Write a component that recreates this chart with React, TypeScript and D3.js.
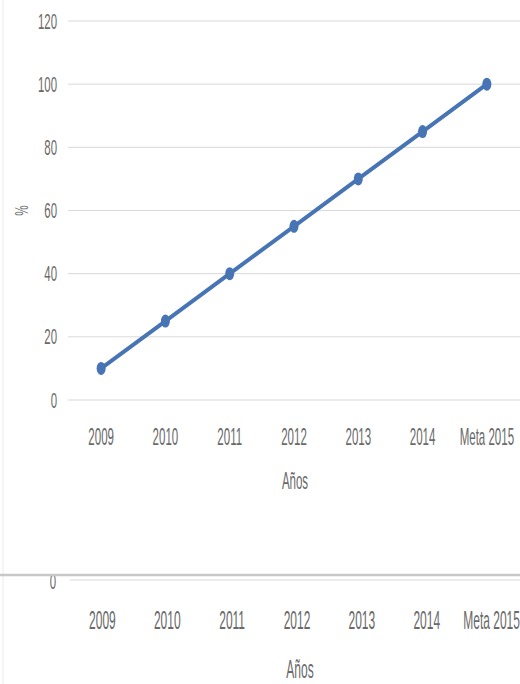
import React from 'react';
import * as d3 from 'd3';

const categories = ['2009', '2010', '2011', '2012', '2013', '2014', 'Meta 2015'];
const values = [10, 25, 40, 55, 70, 85, 100];
const yTicks = [0, 20, 40, 60, 80, 100, 120];
const xTitle = 'Años';
const yTitle = '%';

const FONT = '"Liberation Sans", Arial, sans-serif';
const TEXT_COLOR = '#6a6a6a';
const GRID = '#d9d9d9';
const LINE = '#4674b4';

function CText({ x, y, children, anchor = 'middle', size = 21, rotate = 0, sx = 0.5 }: any) {
  return (
    <text
      transform={`translate(${x},${y}) rotate(${rotate}) scale(${sx},1)`}
      textAnchor={anchor}
      dominantBaseline="central"
      fontFamily={FONT}
      fontSize={size}
      fill={TEXT_COLOR}
    >
      {children}
    </text>
  );
}

export default function App() {
  const W = 520;
  const H = 684;

  const x = d3.scaleBand<string>().domain(categories).range([69, 519]);
  const y = d3.scaleLinear().domain([0, 120]).range([400, 21]);
  const cx = (c: string) => (x(c) as number) + x.bandwidth() / 2;

  const line = d3
    .line<number>()
    .x((_, i) => cx(categories[i]))
    .y((d) => y(d));

  // Bottom (duplicated) axis strip
  const xb = d3.scaleBand<string>().domain(categories).range([70, 524]);
  const yb = d3.scaleLinear().domain([0, 120]).range([580, 201]);
  const cxb = (c: string) => (xb(c) as number) + xb.bandwidth() / 2;

  return (
    <svg width={W} height={H} style={{ position: 'absolute', left: 0, top: 0, background: '#fff' }}>
      <defs>
        <clipPath id="topClip">
          <rect x={0} y={0} width={W} height={505} />
        </clipPath>
        <clipPath id="bottomClip">
          <rect x={0} y={576} width={W} height={H - 576} />
        </clipPath>
      </defs>
      <rect x={0} y={0} width={W} height={H} fill="#fff" />
      <line x1={3} x2={3} y1={0} y2={H} stroke="#ececec" strokeWidth={1} />

      <g clipPath="url(#topClip)">
        {yTicks.map((t) => (
          <line key={'g' + t} x1={68} x2={W} y1={y(t)} y2={y(t)} stroke={GRID} strokeWidth={1} />
        ))}
        {yTicks.map((t) => (
          <CText key={'yl' + t} x={57} y={y(t)} anchor="end" size={22} sx={0.52}>
            {t}
          </CText>
        ))}
        <CText x={21} y={y(60)} rotate={-90} size={19} sx={0.62}>
          {yTitle}
        </CText>
        {categories.map((c) => (
          <CText key={'xl' + c} x={cx(c)} y={437} size={24} sx={0.48}>
            {c}
          </CText>
        ))}
        <CText x={295} y={481} size={24} sx={0.48}>
          {xTitle}
        </CText>
        <path d={line(values) as string} fill="none" stroke={LINE} strokeWidth={4} strokeLinecap="round" strokeLinejoin="round" />
        {values.map((v, i) => (
          <ellipse key={'m' + i} cx={cx(categories[i])} cy={y(v)} rx={4.5} ry={6.5} fill={LINE} />
        ))}
      </g>

      <g clipPath="url(#bottomClip)">
        <line x1={70} x2={W} y1={yb(0)} y2={yb(0)} stroke={GRID} strokeWidth={1} />
        <CText x={56} y={yb(0) + 1} anchor="end" size={22} sx={0.52}>
          {yTicks[0]}
        </CText>
        {categories.map((c) => (
          <CText key={'xb' + c} x={cxb(c)} y={620} size={25} sx={0.48}>
            {c}
          </CText>
        ))}
        <CText x={300} y={669} size={25} sx={0.48}>
          {xTitle}
        </CText>
      </g>
      <line x1={0} x2={W} y1={575} y2={575} stroke="#c8c8c8" strokeWidth={2.5} />
    </svg>
  );
}
